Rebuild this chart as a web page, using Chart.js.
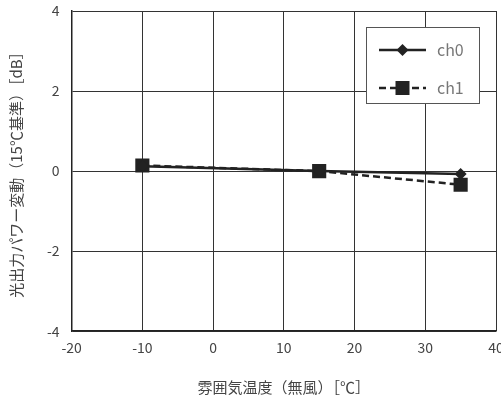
<!DOCTYPE html>
<html>
<head>
<meta charset="utf-8">
<script src="https://cdn.jsdelivr.net/npm/chart.js@4.4.0/dist/chart.umd.min.js"></script>
<style>
  html, body { margin: 0; padding: 0; background: #fff; overflow: hidden; }
  /* canvas slightly wider than the window so the last x label is clipped like the reference */
  canvas { display: block; }
</style>
</head>
<body>
<canvas id="chart" width="506" height="403" style="width:506px;height:403px"></canvas>
<script>
// data
const temps = [-10, 15, 35];
const ch0 = [0.12, 0.0, -0.07];
const ch1 = [0.14, 0.0, -0.34];
const seriesNames = ['ch0', 'ch1'];
const xTitle = '雰囲気温度（無風）［℃］';
const yTitle = '光出力パワー変動（15℃基準）［dB］';

const FONT = "'Noto Sans CJK JP', 'Noto Sans', sans-serif";

// legend drawn inside the plot area, top right
const boxLegend = {
    id: 'boxLegend',
    afterDraw(chart) {
        const ctx = chart.ctx;
        const area = chart.chartArea;
        const w = 113, h = 76;
        const x = area.right - 130, y = area.top + 16;
        ctx.save();
        ctx.fillStyle = '#fff';
        ctx.fillRect(x, y, w, h);
        ctx.strokeStyle = '#555';
        ctx.lineWidth = 1;
        ctx.strokeRect(x + 0.5, y + 0.5, w, h);
        chart.data.datasets.forEach((ds, i) => {
            const cy = y + 23 + i * 38;
            const lx = x + 13, rx = x + 60;
            ctx.strokeStyle = ds.borderColor;
            ctx.lineWidth = ds.borderWidth;
            ctx.setLineDash(ds.borderDash || []);
            ctx.beginPath();
            ctx.moveTo(lx, cy);
            ctx.lineTo(rx, cy);
            ctx.stroke();
            ctx.setLineDash([]);
            ctx.fillStyle = ds.pointBackgroundColor;
            const mx = (lx + rx) / 2;
            ctx.beginPath();
            if (ds.pointStyle === 'rectRot') {
                const r = 6;
                ctx.moveTo(mx, cy - r); ctx.lineTo(mx + r, cy);
                ctx.lineTo(mx, cy + r); ctx.lineTo(mx - r, cy);
                ctx.closePath();
            } else {
                ctx.rect(mx - 7, cy - 7, 14, 14);
            }
            ctx.fill();
            ctx.fillStyle = '#777';
            ctx.font = '16px ' + FONT;
            ctx.textBaseline = 'middle';
            ctx.fillText(ds.label, rx + 11, cy);
        });
        ctx.restore();
    }
};

new Chart(document.getElementById('chart'), {
    type: 'line',
    data: {
        datasets: [
            { label: seriesNames[0], data: temps.map((t, i) => ({ x: t, y: ch0[i] })),
              borderColor: '#222', backgroundColor: '#222', pointBackgroundColor: '#222',
              borderWidth: 2.5, pointStyle: 'rectRot', pointRadius: 6, pointBorderWidth: 0 },
            { label: seriesNames[1], data: temps.map((t, i) => ({ x: t, y: ch1[i] })),
              borderColor: '#222', backgroundColor: '#222', pointBackgroundColor: '#222',
              borderWidth: 2.5, borderDash: [7, 4], pointStyle: 'rect', pointRadius: 10, pointBorderWidth: 0 }
        ]
    },
    options: {
        responsive: false,
        animation: false,
        layout: { padding: { top: 11, right: 1, left: 7, bottom: 7 } },
        plugins: { legend: { display: false }, tooltip: { enabled: false } },
        scales: {
            x: {
                type: 'linear', min: -20, max: 40,
                afterFit(scale) { scale.paddingRight = 0; scale.paddingLeft = 0; },
                ticks: { stepSize: 10, color: '#444', padding: 8, font: { family: FONT, size: 14 } },
                grid: { color: '#333', lineWidth: 1, drawTicks: false },
                border: { color: '#222', width: 1.5 },
                title: { display: true, text: xTitle, color: '#444', padding: { top: 14, bottom: 0 }, font: { family: FONT, size: 15 } }
            },
            y: {
                min: -4, max: 4,
                afterFit(scale) { scale.paddingTop = 0; scale.paddingBottom = 0; },
                ticks: { stepSize: 2, color: '#444', padding: 12, font: { family: FONT, size: 14 } },
                grid: { color: '#333', lineWidth: 1, drawTicks: false },
                border: { color: '#222', width: 1.5 },
                title: { display: true, text: yTitle, color: '#444', padding: { top: 0, bottom: 10 }, font: { family: FONT, size: 15 } }
            }
        }
    },
    plugins: [boxLegend]
});
</script>
</body>
</html>
